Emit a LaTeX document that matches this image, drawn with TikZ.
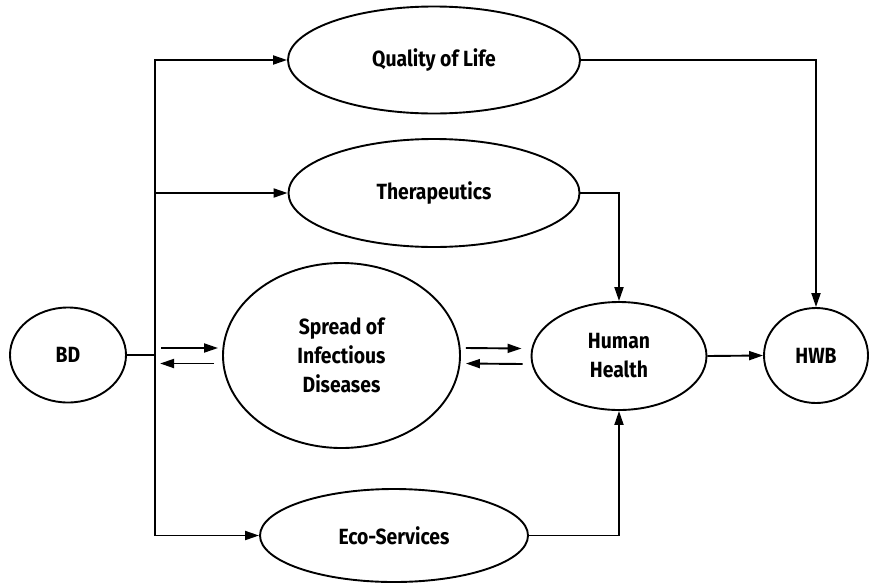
\documentclass[tikz,border=0pt]{standalone}
\usepackage{fontspec}
\newfontfamily\labelfont{Fira Sans}[FakeStretch=0.88]
\usetikzlibrary{shapes.geometric,arrows.meta,calc}
\begin{document}
\begin{tikzpicture}[x=1pt,y=-1pt,
  bubble/.style={ellipse,draw,line width=1.9pt,inner sep=0pt,align=center,
    font=\labelfont\bfseries\fontsize{22}{29}\selectfont},
  link/.style={line width=1.9pt},
  flow/.style={link,-{Triangle[length=14pt,width=9pt]}}]
\useasboundingbox (0,0) rectangle (869,584);

% factors
\node[bubble,minimum width=116pt,minimum height=95pt] (bd) at (68,355) {BD};
\node[bubble,minimum width=292pt,minimum height=107pt] (ql) at (434,60) {Quality of Life};
\node[bubble,minimum width=291pt,minimum height=108pt] (th) at (434,193) {Therapeutics};
\node[bubble,minimum width=237pt,minimum height=185pt] (sp) at (341.5,355.5) {Spread of\\Infectious\\Diseases};
\node[bubble,minimum width=175pt,minimum height=108pt] (hh) at (619,356) {Human\\Health};
\node[bubble,minimum width=104pt,minimum height=95pt] (hwb) at (816,355.5) {HWB};
\node[bubble,minimum width=268pt,minimum height=93pt] (es) at (394,535.5) {Eco-Services};

% branching spine from BD
\coordinate (j) at (155,355);
\draw[link] (bd.east) -- (j);
\draw[flow] (j) |- (ql.west);
\draw[flow] (j) |- (th.west);
\draw[flow] (j) |- (es.west);

% two-way links around the disease node
\draw[flow] ($(sp.west)+(-61,-7.5)$) -- ($(sp.west)+(-4,-7.5)$);
\draw[flow] ($(sp.west)+(-8,8)$) -- ($(sp.west)+(-62,8)$);
\draw[flow] ($(sp.east)+(5,-7.5)$) -- ($(hh.west)+(-9,-7.5)$);
\draw[flow] ($(hh.west)+(-8,8)$) -- ($(sp.east)+(5,8)$);

% paths into health and well-being
\draw[flow] (th.east) -| (hh);
\draw[flow] (es.east) -| (hh);
\draw[flow] (ql.east) -| (hwb);
\draw[flow] (hh.east) -- (hwb.west);
\end{tikzpicture}
\end{document}
